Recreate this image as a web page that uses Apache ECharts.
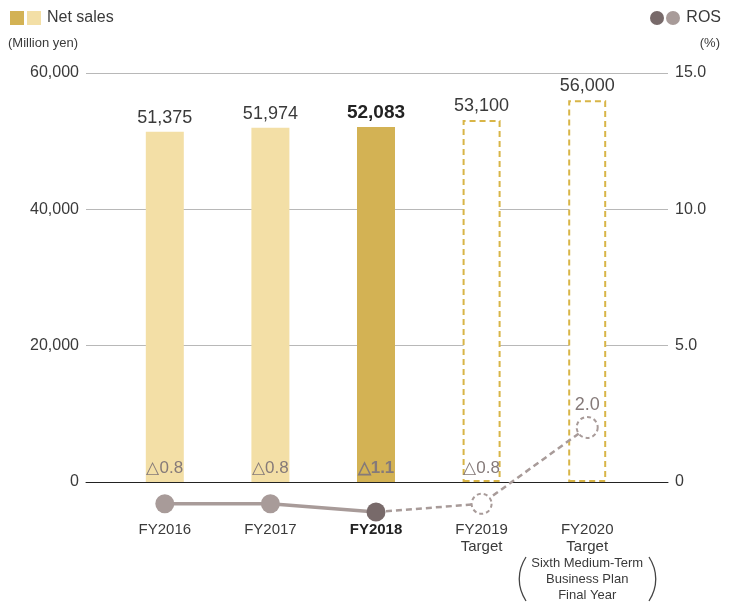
<!DOCTYPE html>
<html>
<head>
<meta charset="utf-8">
<script src="https://cdn.jsdelivr.net/npm/echarts@6/dist/echarts.min.js"></script>
<style>
  html, body { margin: 0; background: #fff; }
  #chart { width: 736px; height: 603px; }
</style>
</head>
<body>
<div id="chart"></div>
<script>
const years = ['FY2016', 'FY2017', 'FY2018', 'FY2019', 'FY2020']
const yearSubs = ['', '', '', 'Target', 'Target']
const planNote = ['Sixth Medium-Term', 'Business Plan', 'Final Year']
const netSales = [51375, 51974, 52083, 53100, 56000]
const ros = [-0.8, -0.8, -1.1, -0.8, 2.0]
const salesMax = 60000
const rosMax = 15

const FONT = '"Liberation Sans", Arial, sans-serif'
const TXT = '#3a3a3a'
const ROS_TXT = '#857a79'
const LIGHT = '#f3dfa6'
const DARK = '#d3b254'
const DASH = '#d8b547'
const DOT = '#a89b99'
const DOT_DARK = '#786a6a'

const current = 2 // FY2018 is highlighted
const isTarget = (i) => i > current

const barData = netSales.map((v, i) => ({
  value: v,
  itemStyle: isTarget(i)
    ? { color: '#fff', borderColor: DASH, borderWidth: 2, borderType: [6, 4] }
    : { color: i === current ? DARK : LIGHT },
  label: i === current ? { fontWeight: 'bold', fontSize: 19, color: '#222' } : {}
}))

// ROS labels sit inside the foot of each bar (negative values)
const rosFootData = netSales.map((v, i) => ({
  value: v,
  label: {
    show: ros[i] < 0,
    fontWeight: i === current ? 'bold' : 'normal'
  }
}))

const solidLine = ros.map((v, i) => i <= current ? {
  value: v,
  itemStyle: { color: i === current ? DOT_DARK : DOT }
} : null)

const dashedLine = ros.map((v, i) => i < current ? null : (i === current ? {
  value: v, symbol: 'none'
} : {
  value: v,
  itemStyle: { color: '#fff', borderColor: DOT, borderWidth: 2, borderType: [4, 3] },
  label: { show: v > 0, position: 'top', distance: 2, formatter: v.toFixed(1),
    color: ROS_TXT, fontSize: 18, fontFamily: FONT },
  symbolSize: i === 4 ? 21 : 20
}))

const chart = echarts.init(document.getElementById('chart'))

chart.setOption({
  backgroundColor: '#fff',
  animation: false,
  textStyle: { fontFamily: FONT },
  grid: [
    { left: 86, right: 68, top: 73, bottom: 121 },
    { left: 112, right: 96, top: 73, bottom: 121 }
  ],
  xAxis: [
    {
      gridIndex: 0, type: 'category', data: [''],
      axisLine: { show: true, lineStyle: { color: '#222', width: 1 } },
      axisTick: { show: false }, axisLabel: { show: false }, splitLine: { show: false }
    },
    {
      gridIndex: 1, type: 'category', data: years,
      axisLine: { show: false }, axisTick: { show: false },
      axisLabel: {
        interval: 0, margin: 39, color: TXT, fontSize: 15, lineHeight: 17, fontFamily: FONT,
        formatter: (val, i) => {
          if (i === current) return '{b|' + val + '}'
          let s = val
          if (yearSubs[i]) s += '\n' + yearSubs[i]
          if (i === 4) s += '\n' + planNote.map(t => '{s|' + t + '}').join('\n')
          return s
        },
        rich: {
          b: { fontWeight: 'bold', fontSize: 15, lineHeight: 17, color: '#222', fontFamily: FONT },
          s: { fontSize: 13, lineHeight: 16, color: TXT, fontFamily: FONT }
        }
      }
    }
  ],
  yAxis: [
    {
      gridIndex: 0, type: 'value', min: 0, max: salesMax, interval: 20000,
      axisLine: { show: false }, axisTick: { show: false },
      axisLabel: { margin: 7, color: TXT, fontSize: 16, fontFamily: FONT,
        formatter: (v) => v.toLocaleString('en-US') },
      splitLine: { lineStyle: { color: '#b8b8b8', width: 1 } }
    },
    {
      gridIndex: 0, type: 'value', min: 0, max: rosMax, interval: 5, position: 'right',
      axisLine: { show: false }, axisTick: { show: false },
      axisLabel: { margin: 7, color: TXT, fontSize: 16, fontFamily: FONT,
        formatter: (v) => v === 0 ? '0' : v.toFixed(1) },
      splitLine: { show: false }
    },
    { gridIndex: 1, type: 'value', min: 0, max: salesMax, show: false },
    { gridIndex: 1, type: 'value', min: 0, max: rosMax, show: false }
  ],
  series: [
    {
      type: 'bar', xAxisIndex: 1, yAxisIndex: 2, barWidth: 38,
      data: barData,
      label: { show: true, position: 'top', distance: 5, color: TXT, fontSize: 18, fontFamily: FONT,
        formatter: (p) => p.value.toLocaleString('en-US') },
      z: 2
    },
    {
      type: 'bar', xAxisIndex: 1, yAxisIndex: 2, barWidth: 38, barGap: '-100%',
      data: rosFootData,
      itemStyle: { color: 'transparent' },
      label: { position: 'insideBottom', distance: 5, color: ROS_TXT, fontSize: 17, fontFamily: FONT,
        formatter: (p) => '△' + Math.abs(ros[p.dataIndex]).toFixed(1) },
      silent: true, z: 3
    },
    {
      type: 'line', xAxisIndex: 1, yAxisIndex: 3, clip: false,
      data: dashedLine, connectNulls: false,
      symbol: 'circle', symbolSize: 20,
      lineStyle: { color: DOT, width: 2.5, type: [6, 4] },
      z: 4
    },
    {
      type: 'line', xAxisIndex: 1, yAxisIndex: 3, clip: false,
      data: solidLine, connectNulls: false,
      symbol: 'circle', symbolSize: 19,
      lineStyle: { color: DOT, width: 3.5 },
      z: 5
    }
  ],
  graphic: [
    { type: 'rect', left: 10, top: 11, shape: { width: 14, height: 14 }, style: { fill: DARK } },
    { type: 'rect', left: 27, top: 11, shape: { width: 14, height: 14 }, style: { fill: LIGHT } },
    { type: 'text', left: 47, top: 10, style: { text: 'Net sales', fill: TXT, fontSize: 16, fontFamily: FONT } },
    { type: 'text', left: 8, top: 37, style: { text: '(Million yen)', fill: TXT, fontSize: 13, fontFamily: FONT } },
    { type: 'circle', shape: { cx: 657, cy: 18, r: 7 }, style: { fill: DOT_DARK } },
    { type: 'circle', shape: { cx: 673, cy: 18, r: 7 }, style: { fill: DOT } },
    { type: 'text', right: 15, top: 10, style: { text: 'ROS', fill: TXT, fontSize: 16, fontFamily: FONT } },
    { type: 'text', right: 16, top: 37, style: { text: '(%)', fill: TXT, fontSize: 13, fontFamily: FONT } },
    { type: 'bezierCurve', shape: { x1: 526, y1: 557, x2: 526, y2: 601, cpx1: 517, cpy1: 571, cpx2: 517, cpy2: 587 },
      style: { stroke: '#444', lineWidth: 1.3, fill: null } },
    { type: 'bezierCurve', shape: { x1: 649, y1: 557, x2: 649, y2: 601, cpx1: 658, cpy1: 571, cpx2: 658, cpy2: 587 },
      style: { stroke: '#444', lineWidth: 1.3, fill: null } }
  ]
})
</script>
</body>
</html>
